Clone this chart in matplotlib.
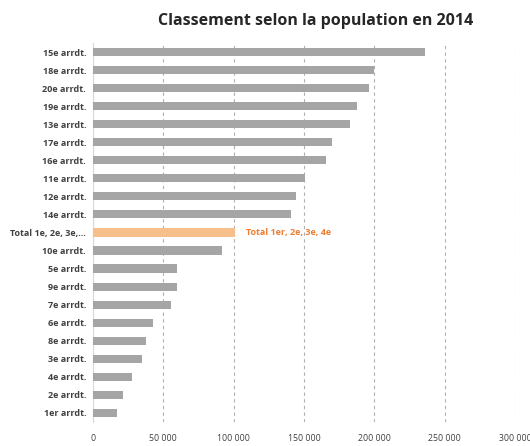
import matplotlib.pyplot as plt
from matplotlib.ticker import FuncFormatter

# Classement des arrondissements selon la population en 2014
labels = ['15e arrdt.', '18e arrdt.', '20e arrdt.', '19e arrdt.', '13e arrdt.',
          '17e arrdt.', '16e arrdt.', '11e arrdt.', '12e arrdt.', '14e arrdt.',
          'Total 1e, 2e, 3e,...', '10e arrdt.', '5e arrdt.', '9e arrdt.', '7e arrdt.',
          '6e arrdt.', '8e arrdt.', '3e arrdt.', '4e arrdt.', '2e arrdt.', '1er arrdt.']
population = [236000, 200000, 196000, 187500, 183000,
              170000, 165500, 151000, 144500, 141000,
              101000, 92000, 60000, 59500, 55500,
              43000, 37500, 35000, 27500, 21500, 17000]
total_label = 'Total 1er, 2e, 3e, 4e'
x_ticks = [0, 50000, 100000, 150000, 200000, 250000, 300000]

plt.rcParams['font.family'] = ['Open Sans', 'DejaVu Sans']

fig = plt.figure(figsize=(5.3, 4.46), dpi=100)
ax = fig.add_axes([0.1755, 0.054, 0.7962, 0.8496])

total_idx = labels.index('Total 1e, 2e, 3e,...')
colors = ['#a5a5a5'] * len(labels)
colors[total_idx] = '#f7bf8c'

ypos = list(range(len(labels)))
ax.barh(ypos, population, height=0.45, color=colors, zorder=3)

ax.set_ylim(len(labels) - 0.5, -0.5)
ax.set_xlim(0, 300000)
ax.set_yticks(ypos)
ax.set_yticklabels(labels, fontsize=6.5, fontweight='bold', color='#404040')
ax.set_xticks(x_ticks)
ax.xaxis.set_major_formatter(FuncFormatter(lambda v, p: f'{int(v):,}'.replace(',', ' ')))
ax.tick_params(axis='x', labelsize=6.3, colors='#404040', length=0, pad=9)
ax.tick_params(axis='y', length=0, pad=5)

# dashed vertical gridlines
ax.grid(axis='x', linestyle=(0, (3, 3)), color='#b0b0b0', linewidth=0.8, zorder=0)
for s in ['top', 'right', 'bottom']:
    ax.spines[s].set_visible(False)
ax.spines['left'].set_color('#d9d9d9')

# label next to the orange bar
ax.annotate(total_label, xy=(population[total_idx], total_idx), xytext=(8, 0),
            textcoords='offset points', va='center', ha='left',
            fontsize=6.5, fontweight='bold', color='#ed7d31')

fig.text(0.595, 0.953, 'Classement selon la population en 2014',
         ha='center', va='center', fontsize=11.5, fontweight='bold', color='#262626')

fig.savefig('out.png', dpi=100)
